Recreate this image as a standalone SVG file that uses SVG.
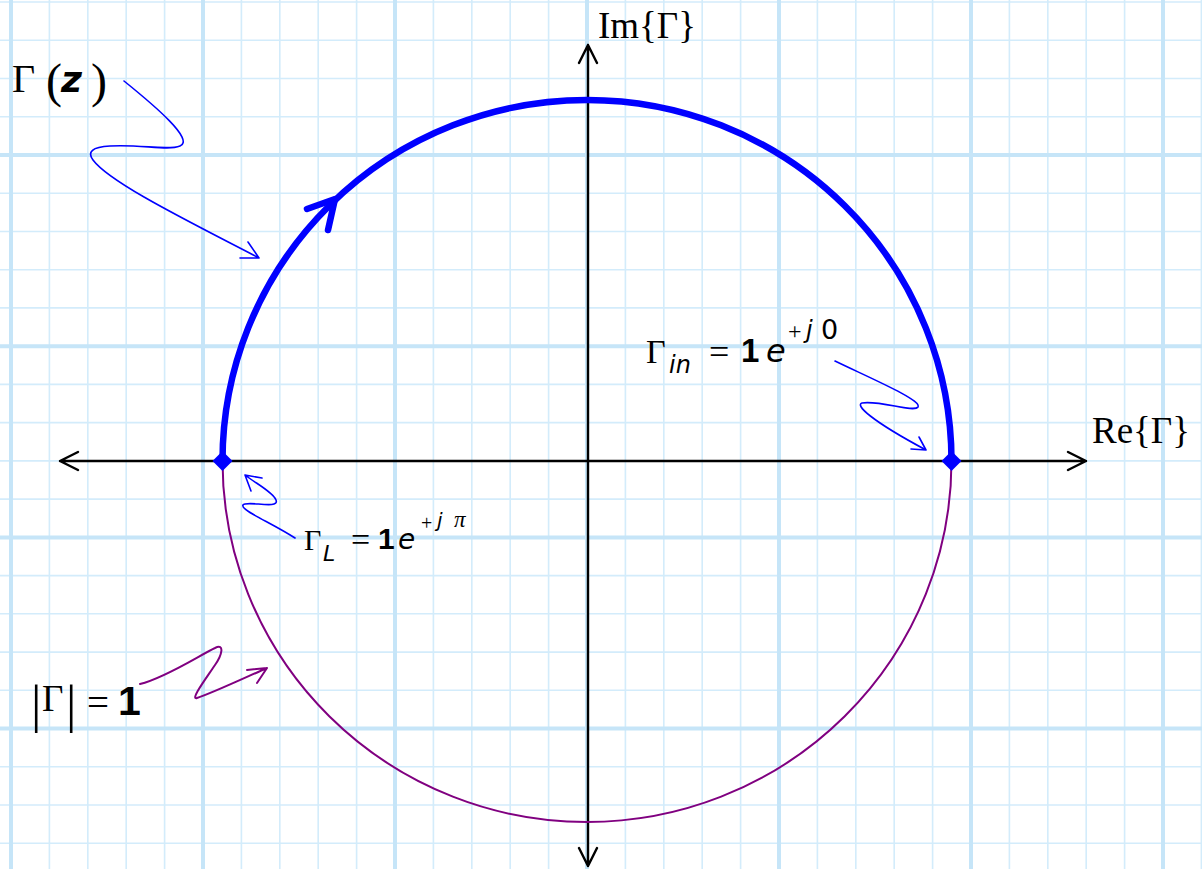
<svg xmlns="http://www.w3.org/2000/svg" width="1202" height="869" viewBox="0 0 1202 869">
<style>
.minor{stroke:#d3ecfb;stroke-width:1.6;fill:none}
.major{stroke:#c6e5f8;stroke-width:4;fill:none}
.axis{stroke:#000;stroke-width:2.4;fill:none;stroke-linecap:round;stroke-linejoin:round}
.serif{font-family:"Liberation Serif","Times New Roman",serif;fill:#000}
.sans{font-family:"DejaVu Sans","Liberation Sans",sans-serif;fill:#000}
.lsb{font-family:"Liberation Sans",Arial,sans-serif;font-weight:bold;fill:#000}
.it{font-style:italic}
.bd{font-weight:bold}
.call{fill:none;stroke:#0000ff;stroke-width:1.6;stroke-linecap:round;stroke-linejoin:round}
.callp{fill:none;stroke:#800080;stroke-width:2;stroke-linecap:round;stroke-linejoin:round}
</style>
<rect width="1202" height="869" fill="#ffffff"/>
<g id="grid">
<path class="minor" d="M49.4,0V869M87.8,0V869M126.2,0V869M164.6,0V869M241.4,0V869M279.8,0V869M318.2,0V869M356.6,0V869M433.4,0V869M471.8,0V869M510.2,0V869M548.6,0V869M625.4,0V869M663.8,0V869M702.2,0V869M740.6,0V869M817.4,0V869M855.8,0V869M894.2,0V869M932.6,0V869M1009.4,0V869M1047.8,0V869M1086.2,0V869M1124.6,0V869M1201.4,0V869
M0,2H1202M0,40.2H1202M0,78.5H1202M0,116.7H1202M0,193.2H1202M0,231.5H1202M0,269.7H1202M0,307.9H1202M0,384.4H1202M0,422.6H1202M0,460.9H1202M0,499.1H1202M0,575.6H1202M0,613.8H1202M0,652.1H1202M0,690.3H1202M0,766.8H1202M0,805H1202M0,843.3H1202"/>
<path class="major" d="M11,0V869M203,0V869M395,0V869M587,0V869M779,0V869M971,0V869M1163,0V869M0,155H1202M0,346.2H1202M0,537.4H1202M0,728.6H1202"/>
</g>
<g id="connectors">
<g id="axes">
<path class="axis" d="M60,461H1086M78,452L60,461L78,470M1068,452L1086,461L1068,470"/>
<path class="axis" d="M588,45V866M579,63L588,45L597,63M579,848L588,866L597,848"/>
</g>
<path id="lower-arc" d="M222.5,461A364.5,361 0 0 0 951.5,461" fill="none" stroke="#800080" stroke-width="2"/>
<path id="upper-arc" d="M222.5,461A364.5,361 0 0 1 951.5,461" fill="none" stroke="#0000ff" stroke-width="6.5"/>
<polyline points="307,209 335,199 328,230" fill="none" stroke="#0000ff" stroke-width="6.5" stroke-linecap="round" stroke-linejoin="round"/>
<path class="call" d="M124,81C155,106 195,140 180,146C168,151 140,144 110,146C92,147 87,152 93,160C110,183 190,222 259,258M248,242L259,258L240,258"/>
<path class="call" d="M835,361C870,378 922,400 918,407C914,413 880,400 862,403C855,405 870,420 926,450M919,437L926,450L911,449"/>
<path class="call" d="M295,538C270,522 240,510 243,505C246,500 280,510 276,500C273,492 255,483 245,475M251,491L245,475L262,478"/>
<path class="callp" d="M140,684C165,678 200,655 215,648C225,643 222,655 215,665C205,680 190,700 197,698C210,694 240,680 267,668M247,670L267,668L257,683"/>
</g>
<g id="node-gamma-L-point"><polygon points="222.5,451 232.5,461 222.5,471 212.5,461" fill="#0000ff"/></g>
<g id="node-gamma-in-point"><polygon points="951.5,451 961.5,461 951.5,471 941.5,461" fill="#0000ff"/></g>
<g id="label-im">
<text class="serif" x="598" y="38" font-size="37">Im{Γ}</text>
</g>
<g id="label-re">
<text class="serif" x="1092" y="443" font-size="37">Re{Γ}</text>
</g>
<g id="label-gamma-z">
<text class="serif" x="12" y="92" font-size="40">Γ</text>
<text class="serif" x="46" y="97" font-size="48">(</text>
<text class="sans it bd" x="61" y="92" font-size="36">z</text>
<text class="serif" x="91" y="97" font-size="48">)</text>
</g>
<g id="label-gamma-in">
<text class="serif" x="646" y="363" font-size="34">Γ</text>
<text class="sans it" x="669" y="373" font-size="24">in</text>
<text class="serif" x="709" y="364" font-size="36">=</text>
<text class="lsb" x="741" y="362" font-size="33">1</text>
<text class="sans it" x="766" y="362" font-size="32">e</text>
<text class="serif" x="788" y="339" font-size="24">+</text>
<text class="sans it" x="806" y="338" font-size="24">j</text>
<text class="sans" x="821" y="339" font-size="27">0</text>
</g>
<g id="label-gamma-L">
<text class="serif" x="304" y="550" font-size="30">Γ</text>
<text class="sans it" x="323" y="561" font-size="22">L</text>
<text class="serif" x="351" y="551" font-size="34">=</text>
<text class="lsb" x="378" y="549" font-size="30">1</text>
<text class="sans it" x="398" y="549" font-size="28">e</text>
<text class="serif" x="421" y="530" font-size="20">+</text>
<text class="sans it" x="437" y="527" font-size="20">j</text>
<text class="serif it" x="454" y="527" font-size="23">π</text>
</g>
<g id="label-abs-gamma">
<text class="serif" x="31" y="722" font-size="52">|</text>
<text class="serif" x="42" y="711" font-size="37">Γ</text>
<text class="serif" x="66" y="722" font-size="52">|</text>
<text class="serif" x="87" y="716" font-size="39">=</text>
<text class="lsb" x="118" y="715" font-size="41">1</text>
</g>
</svg>
